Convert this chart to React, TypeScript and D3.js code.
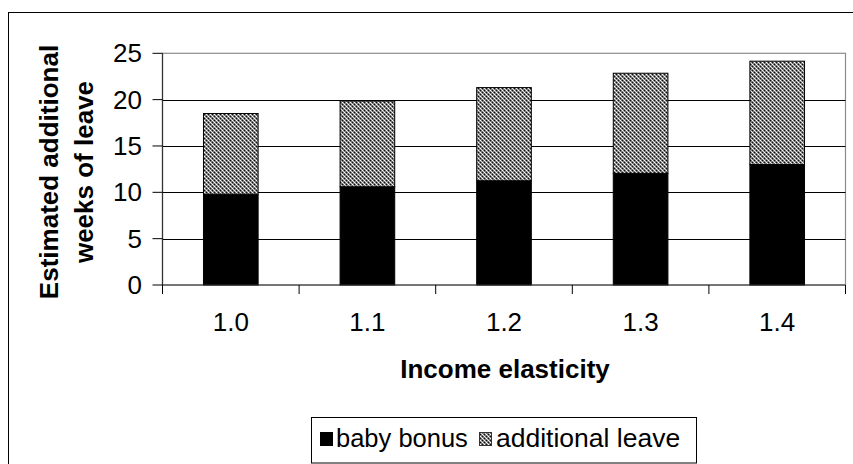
import React from "react";
import * as d3 from "d3";

// Income elasticity scenarios and estimated additional weeks of leave
const categories = ["1.0", "1.1", "1.2", "1.3", "1.4"];
const babyBonus = [9.8, 10.6, 11.25, 12.05, 13.0];
const additionalLeave = [8.7, 9.25, 10.05, 10.8, 11.15];
const yTicks = [0, 5, 10, 15, 20, 25];
const seriesNames = ["baby bonus", "additional leave"];

const W = 853;
const H = 464;
const plot = { left: 162.5, right: 845.5, top: 53.3, bottom: 285 };
const FONT = "Arial, 'Liberation Sans', sans-serif";

export default function App() {
  const x = d3
    .scaleBand<string>()
    .domain(categories)
    .range([plot.left, plot.right])
    .paddingInner(0.6)
    .paddingOuter(0.3);
  const step = x.step();
  const y = d3.scaleLinear().domain([0, 25]).range([plot.bottom, plot.top]);

  const stacked = d3
    .stack<number>()
    .keys(["bonus", "leave"])
    .value((i, key) => (key === "bonus" ? babyBonus[i] : additionalLeave[i]))(
    d3.range(categories.length)
  );

  const boundaries = d3.range(categories.length + 1).map((i) => plot.left + i * step);

  return (
    <svg
      width={W}
      height={H}
      style={{ position: "absolute", left: 0, top: 0, background: "#fff" }}
      fontFamily={FONT}
    >
      <defs>
        <pattern id="checker" width={4} height={4} patternUnits="userSpaceOnUse">
          <rect width={4} height={4} fill="#7a7a7a" />
          <rect x={0} y={0} width={1} height={1} fill="#ffffff" />
          <rect x={2} y={2} width={1} height={1} fill="#ffffff" />
          <rect x={1} y={1} width={1} height={1} fill="#d8d8d8" />
          <rect x={3} y={3} width={1} height={1} fill="#d8d8d8" />
          <rect x={2} y={0} width={1} height={1} fill="#111" />
          <rect x={0} y={2} width={1} height={1} fill="#111" />
        </pattern>
      </defs>

      {/* chart frame */}
      <rect x={8.5} y={12.5} width={900} height={500} fill="none" stroke="#000" strokeWidth={1} />

      {/* plot area border */}
      <rect
        x={plot.left}
        y={plot.top}
        width={plot.right - plot.left}
        height={plot.bottom - plot.top}
        fill="none"
        stroke="#8c8c8c"
        strokeWidth={1.2}
      />

      {/* gridlines */}
      {yTicks
        .filter((t) => t > 0 && t < 25)
        .map((t) => (
          <line
            key={t}
            x1={plot.left}
            x2={plot.right}
            y1={Math.round(y(t)) + 0.5}
            y2={Math.round(y(t)) + 0.5}
            stroke="#000"
            strokeWidth={1}
          />
        ))}

      {/* bars */}
      {stacked.map((layer, li) =>
        layer.map((seg, i) => (
          <rect
            key={`${li}-${i}`}
            x={x(categories[i])!}
            y={y(seg[1])}
            width={x.bandwidth()}
            height={y(seg[0]) - y(seg[1])}
            fill={li === 0 ? "#000" : "url(#checker)"}
            stroke="#000"
            strokeWidth={1}
          />
        ))
      )}

      {/* y axis */}
      <line x1={plot.left} x2={plot.left} y1={plot.top} y2={plot.bottom} stroke="#333" strokeWidth={1.2} />
      {yTicks.map((t) => (
        <g key={t}>
          <line x1={plot.left - 10} x2={plot.left} y1={y(t)} y2={y(t)} stroke="#000" strokeWidth={1} />
          <text x={142} y={y(t)} dy="0.35em" textAnchor="end" fontSize={26} fill="#000">
            {t}
          </text>
        </g>
      ))}

      {/* x axis */}
      <line x1={plot.left} x2={plot.right} y1={plot.bottom} y2={plot.bottom} stroke="#333" strokeWidth={1.2} />
      {boundaries.map((bx, i) => (
        <line key={i} x1={bx} x2={bx} y1={plot.bottom} y2={plot.bottom + 9} stroke="#000" strokeWidth={1} />
      ))}
      {categories.map((c) => (
        <text key={c} x={x(c)! + x.bandwidth() / 2} y={331} textAnchor="middle" fontSize={26} fill="#000">
          {c}
        </text>
      ))}

      {/* axis titles */}
      <text x={505} y={378} textAnchor="middle" fontSize={26} fontWeight="bold" fill="#000">
        Income elasticity
      </text>
      <text
        transform="translate(58,172) rotate(-90)"
        textAnchor="middle"
        fontSize={26}
        fontWeight="bold"
        fill="#000"
      >
        Estimated additional
      </text>
      <text
        transform="translate(93,172) rotate(-90)"
        textAnchor="middle"
        fontSize={26}
        fontWeight="bold"
        fill="#000"
      >
        weeks of leave
      </text>

      {/* legend */}
      <rect x={311.5} y={417.5} width={385} height={45.5} fill="#fff" stroke="#000" strokeWidth={1} />
      <rect x={320} y={432} width={13} height={14} fill="#000" />
      <text x={336} y={447} fontSize={25.5} fill="#000">
        {seriesNames[0]}
      </text>
      <rect x={479.5} y={432.5} width={12} height={13} fill="url(#checker)" stroke="#333" strokeWidth={1} />
      <text x={496} y={447} fontSize={26.5} fill="#000">
        {seriesNames[1]}
      </text>
    </svg>
  );
}
